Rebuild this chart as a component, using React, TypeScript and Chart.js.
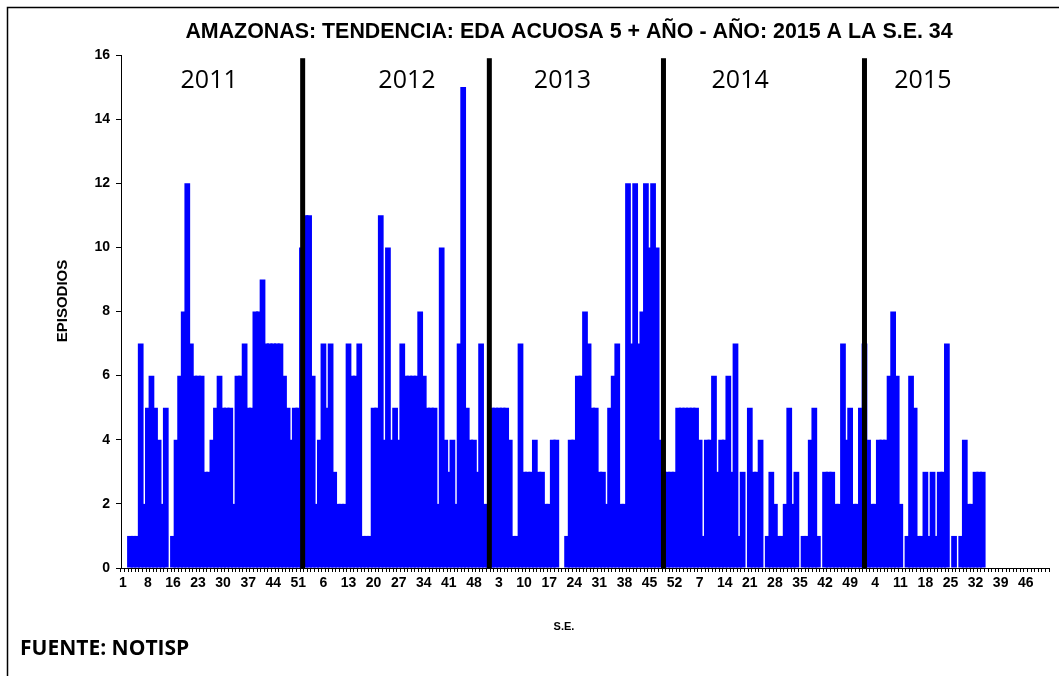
import React, { useEffect, useRef } from "react";
import { Chart, registerables } from "chart.js";

Chart.register(...registerables);

// ---------- DATA ----------
const years = ["2011", "2012", "2013", "2014", "2015"];

// The source series for 2011 lists 51 weeks (one week between 8 and 16 is absent)
const weeks2011 = Array.from({ length: 52 }, (_, i) => i + 1).filter((w) => w !== 15);
const weeksFull = Array.from({ length: 52 }, (_, i) => i + 1);

const cases2011 = [
  0, 0, 1, 1, 1, 7, 2, 5, 6, 5, 4, 2, 5, 0, 1, 4, 6, 8, 12, 7, 6, 6, 6, 3, 3, 4,
  5, 6, 5, 5, 5, 2, 6, 6, 7, 5, 5, 8, 8, 9, 7, 7, 7, 7, 7, 6, 5, 4, 5, 5, 10,
];
const cases2012 = [
  11, 11, 6, 2, 4, 7, 5, 7, 3, 2, 2, 2, 7, 6, 6, 7, 1, 1, 1, 5, 5, 11, 4, 10, 4,
  5, 4, 7, 6, 6, 6, 6, 8, 6, 5, 5, 5, 2, 10, 4, 3, 4, 2, 7, 15, 5, 4, 4, 3, 7, 2, 1,
];
const cases2013 = [
  5, 5, 5, 5, 5, 4, 1, 1, 7, 3, 3, 3, 4, 3, 3, 2, 2, 4, 4, 0, 0, 1, 4, 4, 6, 6,
  8, 7, 5, 5, 3, 3, 2, 5, 6, 7, 2, 2, 12, 7, 12, 7, 8, 12, 10, 12, 10, 4, 3, 3, 3, 3,
];
const cases2014 = [
  5, 5, 5, 5, 5, 5, 4, 1, 4, 4, 6, 3, 4, 4, 6, 3, 7, 1, 3, 0, 5, 3, 3, 4, 0, 1,
  3, 2, 1, 1, 2, 5, 2, 3, 0, 1, 1, 4, 5, 1, 0, 3, 3, 3, 2, 2, 7, 4, 5, 2, 2, 5,
];
// 2015 up to S.E. 34
const cases2015 = [
  7, 4, 2, 2, 4, 4, 4, 6, 8, 6, 2, 0, 1, 6, 5, 1, 1, 3, 1, 3, 1, 3, 3, 7, 0, 1,
  0, 1, 4, 2, 2, 3, 3, 3,
];

// week numbers shown under the axis
const labeledWeeks2011 = [1, 8, 16, 23, 30, 37, 44, 51];
const labeledWeeks2012 = [6, 13, 20, 27, 34, 41, 48];
const labeledWeeks2013 = [3, 10, 17, 24, 31, 38, 45, 52];
const labeledWeeks2014 = [7, 14, 21, 28, 35, 42, 49];
const labeledWeeks2015 = [4, 11, 18, 25, 32, 39, 46];

// black year dividers (category-index positions) and year captions
const dividerPositions = [50.2, 102.3, 150.9, 207.0];
const dividerTop = 15.9;
const yearCaptionPositions = [24.1, 79.3, 122.7, 172.3, 223.3];
const yearCaptionLevel = 15.2;

const titleText = "AMAZONAS: TENDENCIA: EDA ACUOSA 5 + AÑO - AÑO: 2015 A LA S.E. 34";
const yTitle = "EPISODIOS";
const xTitle = "S.E.";
const sourceText = "FUENTE: NOTISP";

// ---------- BUILD ----------
const yearWeeks = [weeks2011, weeksFull, weeksFull, weeksFull, weeksFull];
const yearCases = [cases2011, cases2012, cases2013, cases2014, cases2015];
const yearLabeled = [labeledWeeks2011, labeledWeeks2012, labeledWeeks2013, labeledWeeks2014, labeledWeeks2015];

const categories: string[] = [];
const values: (number | null)[] = [];
const showLabel: boolean[] = [];
yearWeeks.forEach((wks, yi) => {
  wks.forEach((w, i) => {
    categories.push(String(w));
    const v = yearCases[yi][i];
    values.push(v === undefined ? null : v);
    showLabel.push(yearLabeled[yi].includes(w));
  });
});

const ARIAL = "'Liberation Sans', Arial, sans-serif";
const CAL = "'Open Sans', 'Liberation Sans', sans-serif";

const decorPlugin = {
  id: "decor",
  beforeDraw(chart: any) {
    const { ctx, width, height } = chart;
    ctx.save();
    ctx.fillStyle = "#ffffff";
    ctx.fillRect(0, 0, width, height);
    ctx.strokeStyle = "#000";
    ctx.lineWidth = 1.5;
    ctx.beginPath();
    ctx.moveTo(7.5, height + 5);
    ctx.lineTo(7.5, 7.5);
    ctx.lineTo(width + 5, 7.5);
    ctx.stroke();
    ctx.restore();
  },
  afterDatasetsDraw(chart: any) {
    const { ctx, scales } = chart;
    const x = scales.x;
    const y = scales.y;
    ctx.save();
    ctx.fillStyle = "#000";
    const yTop = y.getPixelForValue(dividerTop);
    const yBot = y.getPixelForValue(0);
    dividerPositions.forEach((p) => {
      const px = x.getPixelForValue(p);
      ctx.fillRect(px - 2.5, yTop, 5, yBot - yTop);
    });
    ctx.font = `25px ${CAL}`;
    ctx.textAlign = "center";
    ctx.textBaseline = "middle";
    years.forEach((yr, i) => {
      ctx.fillText(yr, x.getPixelForValue(yearCaptionPositions[i]), y.getPixelForValue(yearCaptionLevel));
    });
    ctx.restore();
  },
  afterDraw(chart: any) {
    const { ctx } = chart;
    ctx.save();
    ctx.fillStyle = "#000";
    ctx.textBaseline = "middle";
    ctx.textAlign = "center";
    ctx.font = `bold 21.4px ${ARIAL}`;
    ctx.fillText(titleText, 569, 32);
    ctx.font = `bold 11px ${ARIAL}`;
    ctx.fillText(xTitle, 564, 627);
    ctx.save();
    ctx.translate(63, 301);
    ctx.rotate(-Math.PI / 2);
    ctx.font = `bold 15px ${ARIAL}`;
    ctx.fillText(yTitle, 0, 0);
    ctx.restore();
    ctx.textAlign = "left";
    ctx.font = `bold 21px ${CAL}`;
    ctx.fillText(sourceText, 20, 649);
    ctx.restore();
  },
};

export default function App() {
  const ref = useRef<HTMLCanvasElement | null>(null);
  useEffect(() => {
    if (!ref.current) return;
    const chart = new Chart(ref.current, {
      type: "bar",
      data: {
        labels: categories,
        datasets: [
          {
            data: values,
            backgroundColor: "#0000FF",
            borderWidth: 0,
            barPercentage: 1.6,
            categoryPercentage: 1.0,
          },
        ],
      },
      options: {
        animation: false,
        responsive: false,
        devicePixelRatio: 1,
        layout: { padding: { top: 55, right: 10, bottom: 0, left: 0 } },
        plugins: {
          legend: { display: false },
          tooltip: { enabled: false },
          title: { display: false },
        },
        scales: {
          x: {
            type: "category",
            offset: true,
            grid: {
              display: true,
              drawOnChartArea: false,
              drawTicks: true,
              tickLength: 4,
              color: "#000",
              offset: true,
              lineWidth: 1,
            },
            border: { display: true, color: "#000", width: 1 },
            ticks: {
              autoSkip: false,
              maxRotation: 0,
              minRotation: 0,
              padding: 3,
              color: "#000",
              font: { family: ARIAL, size: 14, weight: "bold" },
              callback: (_v: any, idx: number) => (showLabel[idx] ? categories[idx] : ""),
            },
            afterFit: (s: any) => {
              s.height = 108;
            },
          },
          y: {
            min: 0,
            max: 16,
            ticks: {
              stepSize: 2,
              color: "#000",
              padding: 6,
              font: { family: ARIAL, size: 14, weight: "bold" },
            },
            grid: {
              display: true,
              drawOnChartArea: false,
              drawTicks: true,
              tickLength: 5,
              color: "#000",
            },
            border: { display: true, color: "#000", width: 1 },
            afterFit: (s: any) => {
              s.width = 121;
            },
          },
        },
      } as any,
      plugins: [decorPlugin],
    });
    return () => chart.destroy();
  }, []);
  return (
    <div style={{ position: "fixed", left: 0, top: 0, width: 1059, height: 676, background: "#fff" }}>
      <canvas ref={ref} width={1059} height={676} style={{ display: "block" }} />
    </div>
  );
}
